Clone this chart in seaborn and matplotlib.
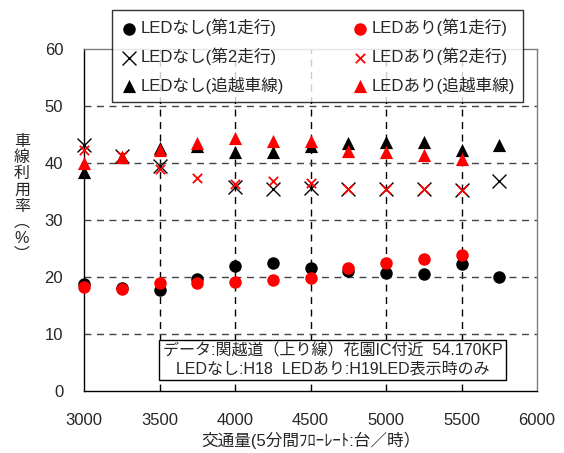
import matplotlib
matplotlib.use("Agg")
import matplotlib.pyplot as plt
import seaborn as sns
import numpy as np
import pandas as pd

# Traffic volume (5-minute flow rate, veh/h)
volume = [3000, 3250, 3500, 3750, 4000, 4250, 4500, 4750, 5000, 5250, 5500, 5750]

# Lane utilisation (%) without LED
nashi_lane1 = [18.8, 18.1, 17.8, 19.7, 22.0, 22.5, 21.6, 21.0, 20.7, 20.6, 22.3, 20.0]
nashi_lane2 = [43.2, 41.2, 39.5, None, 35.8, 35.4, 35.6, 35.4, 35.4, 35.4, 35.3, 36.8]
nashi_pass = [38.4, 41.0, 42.6, 42.9, 42.0, 42.0, 42.9, 43.5, 43.6, 43.6, 42.2, 43.2]

# Lane utilisation (%) with LED
ari_lane1 = [18.2, 17.9, 18.9, 18.9, 19.2, 19.5, 19.9, 21.6, 22.4, 23.2, 23.8, None]
ari_lane2 = [42.2, 41.2, 38.9, 37.4, 36.4, 36.8, 36.5, 35.4, 35.4, 35.4, 35.2, None]
ari_pass = [40.0, 41.1, 42.2, 43.5, 44.4, 43.8, 43.8, 42.1, 42.0, 41.4, 40.7, None]

labels = ["LEDなし(第1走行)", "LEDなし(第2走行)", "LEDなし(追越車線)",
          "LEDあり(第1走行)", "LEDあり(第2走行)", "LEDあり(追越車線)"]

sns.set_theme(style="white")
plt.rcParams["font.family"] = ["Liberation Sans", "Noto Sans CJK JP", "DejaVu Sans"]

fig = plt.figure(figsize=(5.64, 4.53), dpi=100)
ax = fig.add_axes([84 / 564, 1 - 391 / 453, (537 - 84) / 564, (391 - 49) / 453])

series = [
    (nashi_lane1, "o", "black", 81, 0, labels[0]),
    (nashi_lane2, "x", "black", 100, 1.0, labels[1]),
    (nashi_pass, "^", "black", 90, 0, labels[2]),
    (ari_lane1, "o", "#ff0000", 81, 0, labels[3]),
    (ari_lane2, "x", "#ff0000", 45, 1.3, labels[4]),
    (ari_pass, "^", "#ff0000", 90, 0, labels[5]),
]

for vals, mk, col, size, lw, lab in series:
    df = pd.DataFrame({"x": volume, "y": pd.to_numeric(pd.Series(vals), errors="coerce")}).dropna()
    sns.scatterplot(data=df, x="x", y="y", marker=mk, color=col, s=size,
                    linewidth=lw, edgecolor=col if mk != "x" else None,
                    label=lab, ax=ax, zorder=3, clip_on=False)

ax.set_xlim(3000, 6000)
ax.set_ylim(0, 60)
ax.set_xticks(np.arange(3000, 6001, 500))
ax.set_yticks(np.arange(0, 61, 10))
ax.set_xlabel("")
ax.set_ylabel("")

# dashed grid inside the plot area
for xv in range(3500, 6000, 500):
    ax.axvline(xv, color="black", lw=1.0, ls=(0, (5, 4)), zorder=1)
for yv in range(10, 60, 10):
    ax.axhline(yv, color="#444444", lw=1.0, ls=(0, (5, 4)), zorder=1)

for side in ["left", "bottom"]:
    ax.spines[side].set_color("black")
    ax.spines[side].set_linewidth(1.0)
for side in ["top", "right"]:
    ax.spines[side].set_color("#7f7f7f")
    ax.spines[side].set_linewidth(1.0)

ax.tick_params(axis="x", direction="in", length=5, width=1, color="black",
               pad=16, labelsize=12)
ax.tick_params(axis="y", direction="in", length=0, pad=15, labelsize=12)
ax.tick_params(top=False, right=False)

# vertical axis label written as stacked characters
fig.text(22 / 564, 1 - 198 / 453, "車\n線\n利\n用\n率\n︵\n%\n︶",
         ha="center", va="center", fontsize=11.5, linespacing=1.1)
fig.text((84 + 537) / 2 / 564, 1 - 440 / 453, "交通量(5分間ﾌﾛｰﾚｰﾄ:台／時）",
         ha="center", va="center", fontsize=12)

# data source note
ax.text(0.5 * (153 + 512) / 564, 1 - 360 / 453,
        "データ:関越道（上り線）花園IC付近  54.170KP\nLEDなし:H18  LEDあり:H19LED表示時のみ",
        transform=fig.transFigure, ha="center", va="center", fontsize=11.5,
        linespacing=1.25, zorder=5,
        bbox=dict(boxstyle="square,pad=0.2", facecolor="white",
                  edgecolor="black", linewidth=1.0))

leg = ax.legend(ncol=2, loc="upper left",
                bbox_to_anchor=(112 / 564, 1 - 103 / 453, (523 - 112) / 564, 93 / 453),
                bbox_transform=fig.transFigure, mode="expand",
                frameon=True, fancybox=False, shadow=False, fontsize=12,
                handletextpad=0.2, handlelength=1.0, labelspacing=0.7,
                borderpad=0.5, borderaxespad=0, columnspacing=2.0)
leg.get_frame().set_edgecolor("black")
leg.get_frame().set_linewidth(1.0)
leg.set_zorder(10)

fig.savefig("out.png", dpi=100)
